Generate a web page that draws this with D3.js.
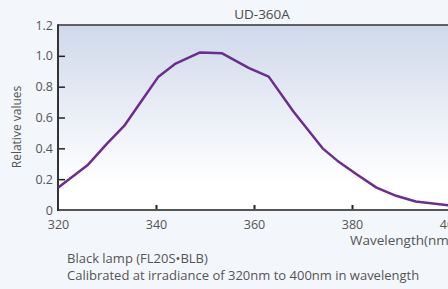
<!DOCTYPE html>
<html>
<head>
<meta charset="utf-8">
<script src="https://cdn.jsdelivr.net/npm/d3@7"></script>
<style>
  body { margin: 0; background: #f3f6fa; }
  svg { display: block; font-family: "Open Sans", sans-serif; }
</style>
</head>
<body>
<script>
const wavelengths = [320, 326, 330, 333.5, 337, 340.5, 344, 349, 353.5, 359, 363, 368, 374, 377, 381, 385, 389, 393, 400]
const values = [0.145, 0.29, 0.43, 0.545, 0.705, 0.865, 0.95, 1.022, 1.016, 0.92, 0.865, 0.64, 0.40, 0.32, 0.23, 0.145, 0.092, 0.055, 0.03]
const xTicks = [320, 340, 360, 380, 400]
const yTicks = [0, 0.2, 0.4, 0.6, 0.8, 1.0, 1.2]

const dims = { w: 448, h: 289, pl: 58, pt: 25, x1: 450, y0: 210 }

const svg = d3.select("body").append("svg")
  .attr("width", dims.w)
  .attr("height", dims.h)

const defs = svg.append("defs")
const grad = defs.append("linearGradient")
  .attr("id", "plotbg").attr("x1", 0).attr("y1", 0).attr("x2", 0).attr("y2", 1)
grad.append("stop").attr("offset", "0%").attr("stop-color", "#cfd9ea")
grad.append("stop").attr("offset", "55%").attr("stop-color", "#eef1f8")
grad.append("stop").attr("offset", "85%").attr("stop-color", "#ffffff")

const xScale = d3.scaleLinear().domain([320, 400]).range([dims.pl, dims.x1])
const yScale = d3.scaleLinear().domain([0, 1.2]).range([dims.y0, dims.pt])

svg.append("rect")
  .attr("x", dims.pl).attr("y", dims.pt)
  .attr("width", dims.x1 - dims.pl).attr("height", dims.y0 - dims.pt)
  .attr("fill", "url(#plotbg)")

// title
svg.append("text")
  .attr("x", 262).attr("y", 19)
  .attr("text-anchor", "middle")
  .attr("font-size", 13.5)
  .attr("fill", "#4a4a4a")
  .text("UD-360A")

// top border
svg.append("line")
  .attr("x1", dims.pl).attr("x2", dims.w)
  .attr("y1", dims.pt).attr("y2", dims.pt)
  .attr("stroke", "#333").attr("stroke-width", 1.5)

const yAxis = d3.axisLeft(yScale)
  .tickValues(yTicks)
  .tickSize(-7)
  .tickPadding(5)
  .tickFormat(d => d === 0 ? "0" : d3.format(".1f")(d))

const gy = svg.append("g")
  .attr("transform", `translate(${dims.pl},0)`)
  .call(yAxis)
gy.select(".domain").remove()
gy.selectAll("line").attr("stroke", "#222").attr("stroke-width", 1.5)
gy.selectAll("text").attr("font-size", 12.5).attr("fill", "#555").attr("font-family", "Open Sans")
gy.selectAll(".tick").filter(d => d === 0 || d === 1.2).select("line").remove()

const xAxis = d3.axisBottom(xScale)
  .tickValues(xTicks)
  .tickSize(-5)
  .tickPadding(10)

const gx = svg.append("g")
  .attr("transform", `translate(0,${dims.y0})`)
  .call(xAxis)
gx.select(".domain").remove()
gx.selectAll("line").attr("stroke", "#222").attr("stroke-width", 2)
gx.selectAll("text").attr("font-size", 12.5).attr("fill", "#555").attr("font-family", "Open Sans")
gx.selectAll(".tick").filter(d => d === 320).select("line").remove()

// axis lines
svg.append("line")
  .attr("x1", dims.pl).attr("x2", dims.w)
  .attr("y1", dims.y0).attr("y2", dims.y0)
  .attr("stroke", "#555").attr("stroke-width", 2)
svg.append("line")
  .attr("x1", dims.pl).attr("x2", dims.pl)
  .attr("y1", dims.pt - 0.75).attr("y2", dims.y0 + 1)
  .attr("stroke", "#333").attr("stroke-width", 2)

// curve
const line = d3.line()
  .x((d, i) => xScale(wavelengths[i]))
  .y(d => yScale(d))

svg.append("path")
  .datum(values)
  .attr("d", line)
  .attr("fill", "none")
  .attr("stroke", "#6b2d8e")
  .attr("stroke-width", 2.5)
  .attr("stroke-linejoin", "round")

// axis titles
svg.append("text")
  .attr("transform", "translate(21,127) rotate(-90)")
  .attr("text-anchor", "middle")
  .attr("font-size", 12)
  .attr("fill", "#555")
  .text("Relative values")

svg.append("text")
  .attr("x", 350).attr("y", 245)
  .attr("font-size", 13.5)
  .attr("fill", "#555")
  .text("Wavelength(nm)")

svg.append("text")
  .attr("x", 67).attr("y", 263)
  .attr("font-size", 13)
  .attr("fill", "#555")
  .text("Black lamp (FL20S•BLB)")
svg.append("text")
  .attr("x", 67).attr("y", 280)
  .attr("font-size", 13)
  .attr("fill", "#555")
  .text("Calibrated at irradiance of 320nm to 400nm in wavelength")
</script>
</body>
</html>
